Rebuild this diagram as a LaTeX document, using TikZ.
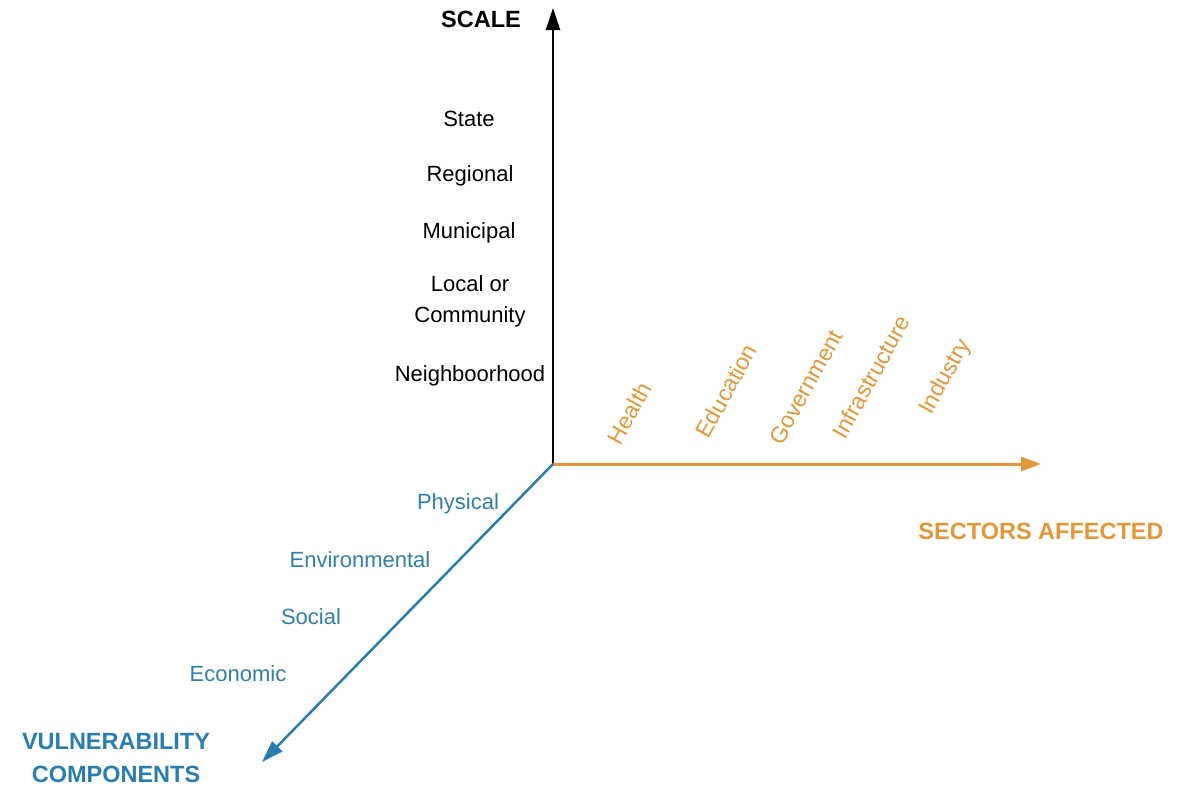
\documentclass[tikz,border=0pt]{standalone}
\usepackage{fontspec}
\setmainfont{Liberation Sans}
\usetikzlibrary{arrows.meta}
\definecolor{secorange}{HTML}{E3973A}
\definecolor{vulblue}{HTML}{2A7DB0}
\definecolor{vultext}{HTML}{2F7FA6}
\tikzset{
  lbl/.style={font=\fontsize{22}{31}\selectfont, inner sep=0pt, align=center},
  ttl/.style={font=\fontsize{23.5}{33}\selectfont\bfseries, inner sep=0pt, align=center},
  seclbl/.style={font=\fontsize{23}{28}\selectfont, inner sep=0pt, text=secorange, rotate=61},
  vullbl/.style={lbl, text=vultext},
  axis/.style={line width=2.5pt},
}
\begin{document}
\begin{tikzpicture}[x=1pt,y=-1pt]
\useasboundingbox (0,0) rectangle (1188,788);
% origin and axis ends
\coordinate (O) at (553,464);
\coordinate (Ytip) at (553,8);
\coordinate (Xtip) at (1041,464);
\coordinate (Ztip) at (262,762);
% axes
\draw[axis, black, -{Triangle[length=22pt,width=14pt]}] (O) -- (Ytip);
\draw[axis, secorange, line width=3pt, -{Triangle[length=20pt,width=14pt]}] (O) -- (Xtip);
\draw[axis, vulblue, -{Triangle[length=22pt,width=14pt]}] (O) -- (Ztip);
% scale axis
\node[ttl] (scale) at (481,19) {SCALE};
\node[lbl] (state) at (469,119) {State};
\node[lbl] (regional) at (470,176) {Regional};
\node[lbl] (municipal) at (469,233) {Municipal};
\node[lbl] (local) at (470,301) {Local or\\Community};
\node[lbl] (neigh) at (470,376) {Neighboorhood};
% sectors axis
\node[seclbl] (health) at (629,413) {Health};
\node[seclbl] (education) at (726,391) {Education};
\node[seclbl] (government) at (806,387) {Government};
\node[seclbl] (infra) at (871,377) {Infrastructure};
\node[seclbl] (industry) at (946,377) {Industry};
\node[ttl, text=secorange] (sectors) at (1041,531) {SECTORS AFFECTED};
% vulnerability axis
\node[vullbl] (physical) at (458,504) {Physical};
\node[vullbl] (environmental) at (360,560) {Environmental};
\node[vullbl] (social) at (311,617) {Social};
\node[vullbl] (economic) at (238,674) {Economic};
\node[ttl, text=vulblue] (vul) at (116,758) {VULNERABILITY\\COMPONENTS};
\end{tikzpicture}
\end{document}
